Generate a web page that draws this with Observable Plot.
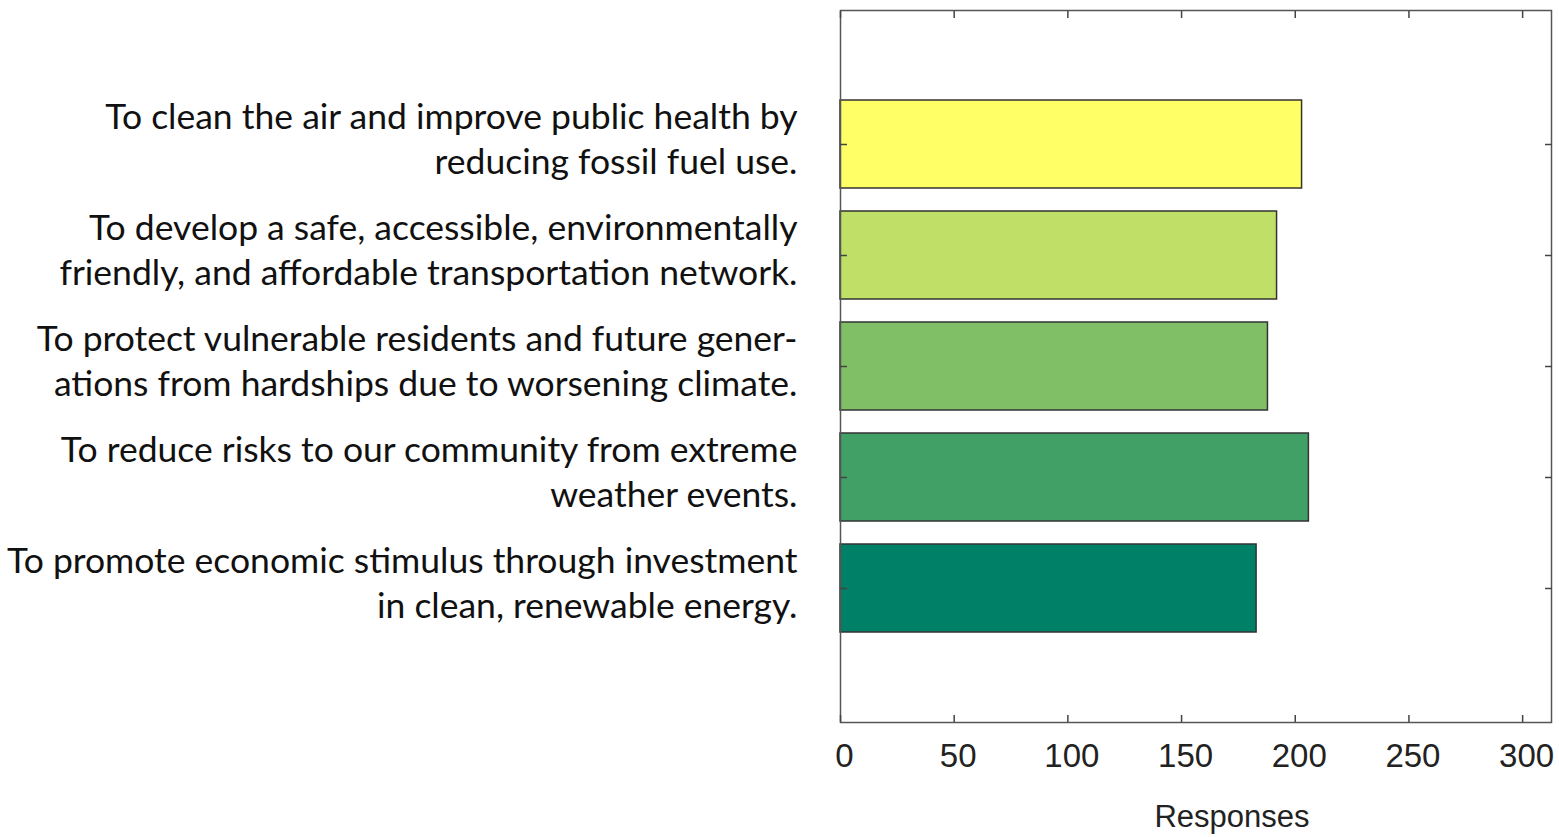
<!DOCTYPE html>
<html>
<head>
<meta charset="utf-8">
<script src="https://cdn.jsdelivr.net/npm/d3@7"></script>
<script src="https://cdn.jsdelivr.net/npm/@observablehq/plot@0.6"></script>
<style>
  html, body { margin: 0; padding: 0; background: #fff; }
  #chart svg { display: block; }
</style>
</head>
<body>
<div id="chart"></div>
<script>
const categories = [
  "To clean the air and improve public health by\nreducing fossil fuel use.",
  "To develop a safe, accessible, environmentally\nfriendly, and affordable transportation network.",
  "To protect vulnerable residents and future gener-\nations from hardships due to worsening climate.",
  "To reduce risks to our community from extreme\nweather events.",
  "To promote economic stimulus through investment\nin clean, renewable energy."
];
const responses = [203, 192, 188, 206, 183];
const barColors = ["#FFFF66", "#BFDF66", "#80BF66", "#40A066", "#008066"];
const xTicks = [0, 50, 100, 150, 200, 250, 300];
const xLabel = ["Responses"];

const data = categories.map((c, i) => ({label: c, value: responses[i]}));

const chart = Plot.plot({
  width: 1559,
  height: 837,
  marginLeft: 840,
  marginRight: 8,
  marginTop: 10,
  marginBottom: 115,
  x: {domain: [0, 312.7], label: null},
  y: {domain: categories, paddingInner: 0.204, paddingOuter: 0.806, label: null},
  color: {domain: categories, range: barColors},
  marks: [
    Plot.barX(data, {x: "value", y: "label", fill: "label", stroke: "#333", strokeWidth: 1.5}),
    Plot.frame({stroke: "#555", strokeWidth: 1.5}),
    // x ticks (inward), bottom and top
    Plot.axisX(xTicks, {anchor: "bottom", tickSize: -7, text: null, stroke: "#444", strokeWidth: 1.5}),
    Plot.axisX(xTicks, {anchor: "top", tickSize: -7, text: null, stroke: "#444", strokeWidth: 1.5}),
    // x tick labels
    Plot.axisX(xTicks, {anchor: "bottom", tickSize: 0, tickPadding: 21, fontSize: 33,
      fontFamily: "Liberation Sans, Arial, sans-serif", fill: "#222", dx: 4}),
    // y ticks (inward), left and right
    Plot.axisY({anchor: "left", tickSize: -7, text: null, stroke: "#444", strokeWidth: 1.5}),
    Plot.axisY({anchor: "right", tickSize: -7, text: null, stroke: "#444", strokeWidth: 1.5}),
    // y labels
    Plot.axisY({anchor: "left", tickSize: 0, tickPadding: 43, fontSize: 35.5, lineHeight: 1.27,
      fontFamily: "Lato, sans-serif", fill: "#111", dy: -7}),
    Plot.text(xLabel, {frameAnchor: "bottom", dx: 36, dy: 104, fontSize: 31,
      fontFamily: "Liberation Sans, Arial, sans-serif", fill: "#222"})
  ]
});
document.getElementById("chart").appendChild(chart);
</script>
</body>
</html>
